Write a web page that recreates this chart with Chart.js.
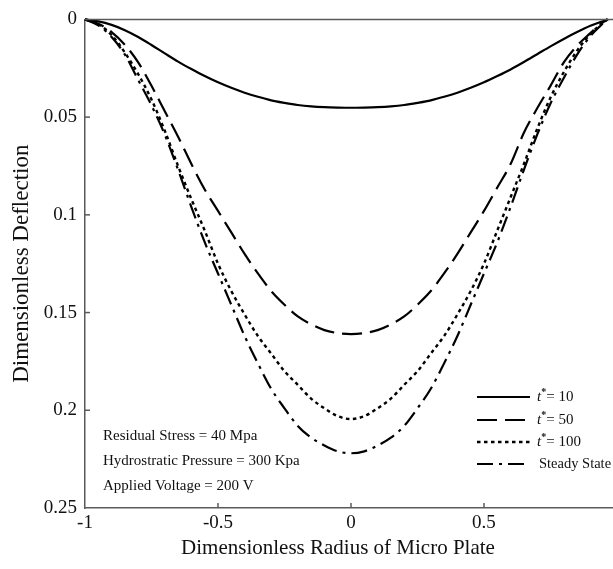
<!DOCTYPE html>
<html><head><meta charset="utf-8">
<script src="https://cdn.jsdelivr.net/npm/chart.js@4.4.0/dist/chart.umd.min.js"></script>
<style>html,body{margin:0;padding:0;background:#fff;overflow:hidden}#wrap{width:613px;height:569px;position:relative}</style>
</head><body><div id="wrap"><canvas id="c"></canvas></div>
<script>
const radius = [-1,-0.95,-0.9,-0.85,-0.8,-0.75,-0.7,-0.65,-0.6,-0.55,-0.5,-0.45,-0.4,-0.35,-0.3,-0.25,-0.2,-0.15,-0.1,-0.05,0,
  0.05,0.1,0.15,0.2,0.25,0.3,0.35,0.4,0.45,0.5,0.55,0.6,0.65,0.7,0.75,0.8,0.85,0.9,0.94,0.965];
const t10 = [0,0.001,0.0028,0.0055,0.009,0.0131,0.0174,0.0216,0.0254,0.029,0.0322,0.035,0.0375,0.0396,0.0414,0.0427,0.0438,0.0445,0.0449,0.0451,0.0452,
  0.0451,0.0449,0.0445,0.0438,0.0427,0.0414,0.0396,0.0375,0.035,0.0322,0.029,0.0256,0.0218,0.0178,0.0138,0.01,0.0065,0.0033,0.0012,0];
const t50 = [0,0.0022,0.0065,0.013,0.022,0.034,0.047,0.06,0.074,0.087,0.098,0.109,0.12,0.13,0.139,0.146,0.152,0.156,0.159,0.1605,0.161,
  0.1605,0.159,0.156,0.152,0.146,0.139,0.13,0.12,0.109,0.098,0.086,0.074,0.058,0.0455,0.034,0.022,0.0135,0.007,0.0022,0];
const t100 = [0,0.0025,0.008,0.017,0.028,0.041,0.057,0.075,0.092,0.108,0.125,0.139,0.151,0.162,0.171,0.18,0.187,0.194,0.199,0.203,0.2045,
  0.203,0.199,0.194,0.187,0.18,0.171,0.162,0.151,0.139,0.125,0.108,0.091,0.074,0.056,0.04,0.027,0.016,0.0075,0.0025,0];
const steady = [0,0.003,0.009,0.018,0.031,0.044,0.059,0.077,0.096,0.114,0.13,0.146,0.162,0.176,0.189,0.199,0.208,0.214,0.218,0.221,0.222,
  0.221,0.218,0.214,0.208,0.199,0.189,0.176,0.162,0.146,0.13,0.114,0.096,0.077,0.059,0.043,0.03,0.018,0.0085,0.003,0];
const xTickValues = [-1,-0.5,0,0.5];
const yTickValues = [0,0.05,0.1,0.15,0.2,0.25];
const seriesNames = ['t*= 10','t*= 50','t*= 100','Steady State'];
const notes = ['Residual Stress = 40 Mpa','Hydrostratic Pressure = 300 Kpa','Applied Voltage = 200 V'];
const xTitle = 'Dimensionless Radius of Micro Plate';
const yTitle = 'Dimensionless Deflection';

const SERIF = '"Liberation Serif", "Times New Roman", serif';
const AXIS = '#5a5a5a';
const INK = '#111';
const pts = arr => radius.map((r,i)=>({x:r,y:arr[i]}));
const styles = [
  {dash:[], w:2.2},
  {dash:[20,8], w:2.2},
  {dash:[3.5,3.5], w:2.4},
  {dash:[16,6,3,6], w:2.2}
];
const seriesData = [t10,t50,t100,steady];

const extras = {
  id:'extras',
  afterDraw(chart){
    const {ctx, chartArea:a, scales:{x,y}} = chart;
    ctx.save();
    ctx.strokeStyle = AXIS; ctx.lineWidth = 1.5;
    ctx.beginPath(); ctx.moveTo(a.left, a.top); ctx.lineTo(a.right, a.top); ctx.stroke();
    x.ticks.forEach(t=>{const px = x.getPixelForValue(t.value); if (px < a.left+2) return;
      ctx.beginPath(); ctx.moveTo(px, a.bottom); ctx.lineTo(px, a.bottom-5); ctx.stroke();});
    y.ticks.forEach(t=>{const py = y.getPixelForValue(t.value); if (py < a.top+2 || py > a.bottom-2) return;
      ctx.beginPath(); ctx.moveTo(a.left, py); ctx.lineTo(a.left+5, py); ctx.stroke();});
    // x title
    ctx.fillStyle = INK; ctx.font = '21px ' + SERIF; ctx.textAlign = 'center'; ctx.textBaseline = 'middle';
    ctx.fillText(xTitle, 338, 548);
    // notes
    ctx.font = '15px ' + SERIF; ctx.textAlign = 'left';
    notes.forEach((s,i)=>ctx.fillText(s, 103, 436 + i*25));
    // legend
    const rows = [397, 420, 442, 464];
    chart.data.datasets.forEach((ds,i)=>{
      const yy = rows[i];
      ctx.strokeStyle = '#000'; ctx.lineWidth = ds.borderWidth; ctx.setLineDash(ds.borderDash || []);
      ctx.beginPath(); ctx.moveTo(477, yy); ctx.lineTo(530, yy); ctx.stroke();
      ctx.setLineDash([]);
      const name = seriesNames[i];
      let xx = 537;
      ctx.fillStyle = INK; ctx.textBaseline = 'middle';
      if (name.startsWith('t*')) {
        ctx.font = 'italic 15px ' + SERIF; ctx.fillText('t', xx, yy); xx += ctx.measureText('t').width;
        ctx.font = 'bold 10px ' + SERIF; ctx.fillText('*', xx, yy-5); xx += ctx.measureText('*').width;
        ctx.font = '15px ' + SERIF; ctx.fillText(name.slice(2), xx, yy);
      } else {
        ctx.font = '14.5px ' + SERIF; ctx.fillText(name, xx+2, yy);
      }
    });
    ctx.restore();
  }
};

new Chart(document.getElementById('c'), {
  type:'line',
  data:{ datasets: seriesData.map((d,i)=>({
    label: seriesNames[i], data: pts(d), borderColor:'#000', borderWidth: styles[i].w,
    borderDash: styles[i].dash, pointRadius:0, fill:false, cubicInterpolationMode:'monotone', clip:6
  }))},
  options:{
    responsive:true, maintainAspectRatio:false, animation:false,
    layout:{padding:{top:13,right:0,left:0,bottom:0}},
    plugins:{legend:{display:false}, tooltip:{enabled:false}},
    scales:{
      x:{type:'linear', min:-1, max:0.985,
        afterBuildTicks: ax => { ax.ticks = xTickValues.map(v=>({value:v})); },
        afterFit: ax => { ax.height = 61; },
        grid:{display:false, drawTicks:false},
        border:{display:true, color:AXIS, width:1.5},
        ticks:{color:INK, font:{family:SERIF, size:19}, padding:4, maxRotation:0, callback:v=>String(v)},
        title:{display:false}
      },
      y:{type:'linear', min:0, max:0.25, reverse:true,
        afterBuildTicks: ax => { ax.ticks = yTickValues.map(v=>({value:v})); },
        afterFit: ax => { ax.width = 85; },
        grid:{display:false, drawTicks:false},
        border:{display:true, color:AXIS, width:1.5},
        ticks:{color:INK, font:{family:SERIF, size:19}, padding:8, callback:v=>String(+v.toFixed(2))},
        title:{display:true, text:yTitle, color:INK, font:{family:SERIF, size:23}, padding:{top:8,bottom:0}}
      }
    }
  },
  plugins:[extras]
});
</script></body></html>
